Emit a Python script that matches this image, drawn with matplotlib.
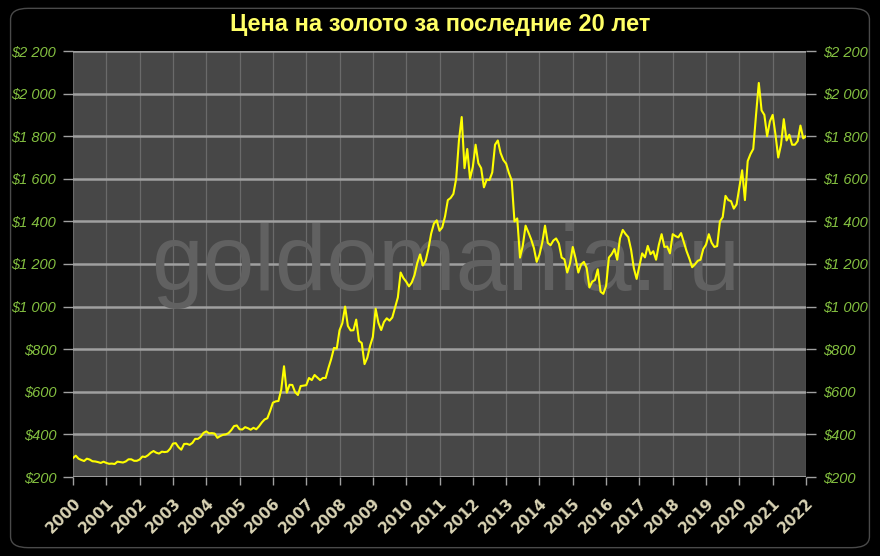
import matplotlib
matplotlib.use('Agg')
import matplotlib.pyplot as plt
from matplotlib.patches import FancyBboxPatch
from matplotlib.ticker import FuncFormatter
import numpy as np

# monthly gold price, USD/oz, Jan 2000 .. Jan 2022
p2000 = [289, 300, 286, 280, 275, 286, 282, 274, 273, 270, 266, 272]
p2001 = [266, 262, 263, 261, 272, 270, 268, 273, 283, 283, 276, 276]
p2002 = [282, 296, 294, 302, 314, 322, 314, 310, 319, 317, 319, 333]
p2003 = [357, 359, 340, 328, 355, 356, 351, 360, 379, 379, 389, 407]
p2004 = [414, 405, 406, 404, 384, 392, 398, 400, 406, 420, 439, 442]
p2005 = [424, 423, 434, 429, 422, 431, 424, 438, 456, 470, 476, 510]
p2006 = [549, 555, 557, 610, 720, 596, 633, 632, 598, 585, 627, 629]
p2007 = [631, 665, 655, 679, 667, 655, 665, 665, 712, 754, 806, 803]
p2008 = [889, 922, 1000, 909, 888, 889, 939, 839, 829, 730, 760, 816]
p2009 = [858, 990, 924, 890, 928, 945, 934, 949, 996, 1043, 1160, 1134]
p2010 = [1117, 1095, 1113, 1148, 1205, 1245, 1193, 1215, 1271, 1343, 1390, 1405]
p2011 = [1356, 1372, 1424, 1500, 1510, 1529, 1600, 1780, 1890, 1650, 1740, 1600]
p2012 = [1656, 1760, 1673, 1650, 1560, 1596, 1594, 1630, 1760, 1780, 1721, 1688]
p2013 = [1671, 1627, 1593, 1400, 1414, 1230, 1286, 1380, 1349, 1316, 1275, 1210]
p2014 = [1244, 1300, 1380, 1299, 1288, 1310, 1320, 1296, 1230, 1222, 1160, 1202]
p2015 = [1280, 1227, 1160, 1198, 1210, 1181, 1090, 1117, 1125, 1175, 1070, 1060]
p2016 = [1097, 1230, 1246, 1270, 1220, 1320, 1360, 1341, 1326, 1267, 1180, 1130]
p2017 = [1192, 1250, 1231, 1285, 1246, 1260, 1220, 1290, 1340, 1280, 1282, 1250]
p2018 = [1340, 1331, 1325, 1345, 1303, 1260, 1225, 1185, 1198, 1215, 1220, 1270]
p2019 = [1291, 1340, 1300, 1280, 1284, 1400, 1420, 1520, 1500, 1495, 1460, 1480]
p2020 = [1560, 1640, 1500, 1683, 1716, 1740, 1900, 2050, 1921, 1900, 1800, 1870]
p2021 = [1900, 1808, 1700, 1760, 1880, 1780, 1807, 1760, 1760, 1777, 1850, 1790]
p2022 = [1800]

prices = (p2000 + p2001 + p2002 + p2003 + p2004 + p2005 + p2006 + p2007 +
          p2008 + p2009 + p2010 + p2011 + p2012 + p2013 + p2014 + p2015 +
          p2016 + p2017 + p2018 + p2019 + p2020 + p2021 + p2022)
years = list(range(2000, 2023))
yticks = list(range(200, 2201, 200))
title = 'Цена на золото за последние 20 лет'

x = 2000 + np.arange(len(prices)) / 12.

fig = plt.figure(figsize=(8.8, 5.56), dpi=100, facecolor='black')
ax = fig.add_axes([73/880., 1 - 477/556., (806-73)/880., (477-51)/556.])
ax.set_facecolor('#474747')

# faint rounded frame around the whole picture
frame = FancyBboxPatch((0.012, 0.015), 0.976, 0.97,
                       boxstyle='round,pad=0,rounding_size=0.02',
                       transform=fig.transFigure, fill=False,
                       edgecolor='#4a4a4a', linewidth=1.0)
fig.patches.append(frame)

ax.text(0.508, 0.495, 'goldomania.ru', transform=ax.transAxes, ha='center',
        va='center', fontsize=67, color='#616161', family='Liberation Sans',
        zorder=1)

ax.plot(x, prices, color='#ffff00', linewidth=1.5, zorder=3)

ax.set_xlim(2000, 2022)
ax.set_ylim(200, 2200)
ax.set_xticks(years)
ax.set_yticks(yticks)
ax.grid(axis='y', color='#a0a0a0', linewidth=1.8, zorder=2)
ax.grid(axis='x', color='#6a6a6a', linewidth=0.9, zorder=2)
ax.set_axisbelow(True)
for s in ax.spines.values():
    s.set_visible(False)

fmt = FuncFormatter(lambda v, pos: '$' + format(int(v), ',').replace(',', ' '))
ax.yaxis.set_major_formatter(fmt)
ax.tick_params(axis='y', which='both', left=True, right=True, labelleft=True,
               labelright=True, length=7, color='#a0a0a0', width=1,
               labelcolor='#84c040', pad=5)
for lab in ax.get_yticklabels() + ax.get_yticklabels(which='minor'):
    lab.set_fontstyle('italic')
    lab.set_family('Liberation Sans')
    lab.set_fontsize(10.5)
ax.tick_params(axis='x', length=6, color='#a0a0a0', width=1,
               labelcolor='#d9d3b4', pad=7)
ax.set_xticklabels([str(y) for y in years], rotation=45, ha='right',
                   va='top', rotation_mode='anchor', fontsize=11,
                   fontweight='bold')
# bottom axis line
ax.axhline(200, color='#a0a0a0', linewidth=1.8, zorder=2)

fig.text(0.5, 1 - 24/556., title, ha='center', va='center', color='#ffff66',
         fontsize=17, fontweight='bold', family='Liberation Sans')

fig.savefig('out.png', dpi=100, facecolor='black')
